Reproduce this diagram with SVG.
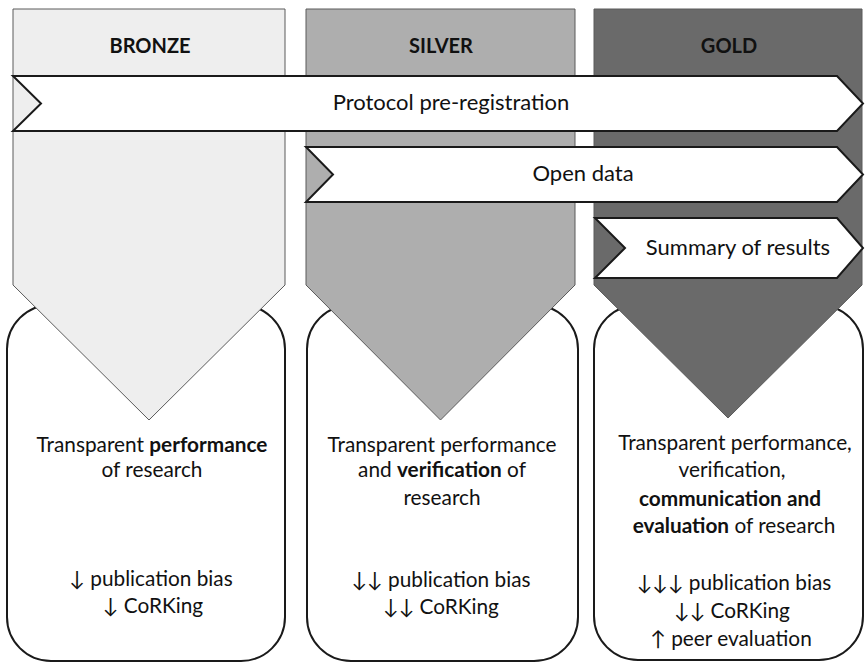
<svg xmlns="http://www.w3.org/2000/svg" width="865" height="664" viewBox="0 0 865 664">
<defs>
<style>
.box{fill:#fff;stroke:#1a1a1a;stroke-width:2}
.pent{stroke:#5a5a5a;stroke-width:1}
.arrow{fill:#fff;stroke:#1a1a1a;stroke-width:2;stroke-linejoin:miter}
text{font-family:Lato,"Open Sans","Liberation Sans",sans-serif;fill:#111}
.title{font-size:20px;font-weight:bold;text-anchor:middle}
.lbl{font-size:22px;text-anchor:middle}
.body{font-size:20.8px;text-anchor:middle}
.b{font-weight:bold}
</style>
</defs>
<rect width="865" height="664" fill="#fff"/>
<g id="boxes">
<rect id="bronze-box" class="box" x="7" y="305" width="278" height="356" rx="44" ry="44"/>
<rect id="silver-box" class="box" x="307" y="305" width="271" height="356" rx="44" ry="44"/>
<rect id="gold-box" class="box" x="594" y="305" width="269" height="355" rx="44" ry="44"/>
</g>
<g id="bronze">
<polygon class="pent" fill="#eeeeee" points="13,9 285,9 285,285 149,420 13,285"/>
<text class="title" x="150" y="53">BRONZE</text>
</g>
<g id="silver">
<polygon class="pent" fill="#aeaeae" points="306,9 575,9 575,285 440.5,420 306,285"/>
<text class="title" x="441" y="53">SILVER</text>
</g>
<g id="gold">
<polygon class="pent" fill="#6a6a6a" points="594,9 862,9 862,285 728,418 594,285"/>
<text class="title" x="729" y="53">GOLD</text>
</g>
<g id="connectors">
<g id="protocol">
<polygon class="arrow" points="13,76 837,76 863,103.5 837,131 13,131 41,103.5"/>
<text class="lbl" x="451" y="110">Protocol pre-registration</text>
</g>
<g id="open-data">
<polygon class="arrow" points="306,147 837,147 863,174.5 837,202 306,202 333,174.5"/>
<text class="lbl" x="583" y="181">Open data</text>
</g>
<g id="summary">
<polygon class="arrow" points="595,218 837,218 863,248 837,278 595,278 625,248"/>
<text class="lbl" x="738" y="255">Summary of results</text>
</g>
</g>
<g id="bronze-text">
<text class="body" x="152" y="452">Transparent <tspan class="b">performance</tspan></text>
<text class="body" x="152" y="477">of research</text>
<text class="body" x="151" y="586">↓ publication bias</text>
<text class="body" x="153" y="613">↓ CoRKing</text>
</g>
<g id="silver-text">
<text class="body" x="442" y="452">Transparent performance</text>
<text class="body" x="442" y="477">and <tspan class="b">verification</tspan> of</text>
<text class="body" x="442" y="505">research</text>
<text class="body" x="441" y="587">↓↓ publication bias</text>
<text class="body" x="441" y="614">↓↓ CoRKing</text>
</g>
<g id="gold-text">
<text class="body" x="735" y="450">Transparent performance,</text>
<text class="body" x="732" y="477">verification,</text>
<text class="body b" x="730" y="506">communication and</text>
<text class="body" x="734" y="533"><tspan class="b">evaluation</tspan> of research</text>
<text class="body" x="734" y="590">↓↓↓ publication bias</text>
<text class="body" x="732" y="618">↓↓ CoRKing</text>
<text class="body" x="731" y="646">↑ peer evaluation</text>
</g>
</svg>
